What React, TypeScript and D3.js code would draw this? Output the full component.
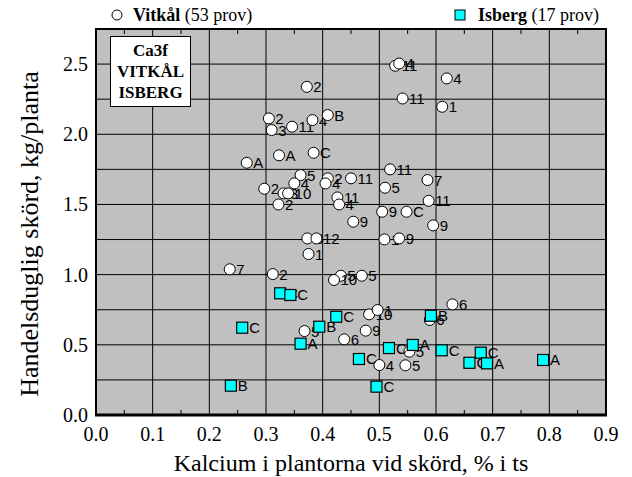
import React from "react";
import * as d3 from "d3";

const vitkalX = [0.236, 0.312, 0.432, 0.42, 0.469, 0.368, 0.438, 0.476, 0.482, 0.497, 0.5, 0.553, 0.546, 0.629, 0.589,
  0.266, 0.323, 0.384, 0.361, 0.35, 0.297, 0.331, 0.339, 0.322, 0.409, 0.405, 0.45, 0.426, 0.429, 0.454, 0.505, 0.509,
  0.373, 0.389, 0.375, 0.519, 0.585, 0.51, 0.587, 0.548, 0.595, 0.535, 0.372, 0.619, 0.611, 0.541, 0.528, 0.535,
  0.305, 0.31, 0.346, 0.382, 0.409];
const vitkalY = [1.038, 1.004, 0.992, 0.962, 0.992, 0.598, 0.539, 0.601, 0.717, 0.748, 0.356, 0.451, 0.354, 0.788, 0.677,
  1.797, 1.85, 1.868, 1.709, 1.65, 1.612, 1.579, 1.579, 1.5, 1.686, 1.65, 1.686, 1.55, 1.5, 1.377, 1.448, 1.251,
  1.258, 1.258, 1.147, 1.75, 1.674, 1.619, 1.526, 1.448, 1.351, 1.258, 2.338, 2.398, 2.196, 2.255, 2.488, 2.504,
  2.113, 2.03, 2.054, 2.101, 2.137];
const vitkalLabel = ["7", "2", "5", "10", "5", "5", "6", "9", "10", "1", "4", "5", "5", "6", "6",
  "A", "A", "C", "5", "4", "2", "3", "10", "2", "2", "4", "11", "11", "4", "9", "9", "1",
  "B", "12", "1", "11", "7", "5", "11", "C", "9", "9", "2", "4", "1", "11", "11", "4",
  "2", "3", "11", "4", "B"];

const isbergX = [0.325, 0.343, 0.258, 0.238, 0.394, 0.361, 0.424, 0.464, 0.495, 0.517, 0.559, 0.591, 0.61, 0.679, 0.659, 0.69, 0.789];
const isbergY = [0.867, 0.855, 0.622, 0.209, 0.629, 0.508, 0.7, 0.399, 0.202, 0.477, 0.499, 0.707, 0.461, 0.444, 0.372, 0.368, 0.392];
const isbergLabel = ["C", "C", "C", "B", "B", "A", "C", "C", "C", "C", "A", "B", "C", "C", "C", "A", "A"];

const xTicks = [0, 0.1, 0.2, 0.3, 0.4, 0.5, 0.6, 0.7, 0.8, 0.9];
const yTicks = [0, 0.5, 1.0, 1.5, 2.0, 2.5];
const yGrid = [0.25, 0.5, 0.75, 1.0, 1.25, 1.5, 1.75, 2.0, 2.25, 2.5];
const xMinor = [0.05, 0.15, 0.25, 0.35, 0.45, 0.55, 0.65, 0.75, 0.85];
const boxLines = ["Ca3f", "VITKÅL", "ISBERG"];

const W = 632, H = 477;
const L = 96, R = 606, T = 29, B = 415;

export default function App() {
  const x = d3.scaleLinear().domain([0, 0.9]).range([L, R]);
  const y = d3.scaleLinear().domain([0, 2.75]).range([B, T]);
  const serif = "'Liberation Serif', 'Times New Roman', serif";
  const sans = "'Liberation Sans', Arial, sans-serif";
  return (
    <svg width={W} height={H} style={{ position: "absolute", left: 0, top: 0, background: "#fff" }}>
      <rect x={L} y={T} width={R - L} height={B - T} fill="#c0c0c0" />
      {xTicks.slice(1, -1).map((t) => (
        <line key={"vx" + t} x1={x(t)} x2={x(t)} y1={T} y2={B} stroke="#000" strokeWidth={1} />
      ))}
      {yGrid.map((t) => (
        <line key={"hy" + t} x1={L} x2={R} y1={y(t)} y2={y(t)} stroke="#000" strokeWidth={1} />
      ))}
      {xMinor.map((t) => (
        <g key={"mx" + t}>
          <line x1={x(t)} x2={x(t)} y1={B} y2={B - 5} stroke="#000" strokeWidth={1} />
          <line x1={x(t)} x2={x(t)} y1={T} y2={T + 5} stroke="#000" strokeWidth={1} />
        </g>
      ))}
      <rect x={L} y={T} width={R - L} height={B - T} fill="none" stroke="#000" strokeWidth={2} />
      <line x1={L - 1} x2={R + 1} y1={B} y2={B} stroke="#000" strokeWidth={3} />

      {/* title box */}
      <rect x={110.5} y={36.5} width={80} height={70} fill="#fff" stroke="#000" strokeWidth={1} />
      {boxLines.map((s, i) => (
        <text key={s} x={150.5} y={56 + i * 21.2} textAnchor="middle" fontFamily={serif} fontWeight="bold" fontSize={17}>{s}</text>
      ))}

      {/* circles */}
      {vitkalX.map((v, i) => (
        <g key={"c" + i}>
          <circle cx={x(v)} cy={y(vitkalY[i])} r={5.5} fill="#fff" stroke="#000" strokeWidth={1} />
          <text x={x(v) + 6.5} y={y(vitkalY[i]) + 5.5} fontFamily={sans} fontSize={15}>{vitkalLabel[i]}</text>
        </g>
      ))}
      {isbergX.map((v, i) => (
        <g key={"s" + i}>
          <rect x={x(v) - 5.5} y={y(isbergY[i]) - 5.5} width={11} height={11} fill="#00ffff" stroke="#000" strokeWidth={1.2} />
          <text x={x(v) + 7} y={y(isbergY[i]) + 5.5} fontFamily={sans} fontSize={15}>{isbergLabel[i]}</text>
        </g>
      ))}

      {/* tick labels */}
      {xTicks.map((t) => (
        <text key={"xl" + t} x={x(t)} y={441} textAnchor="middle" fontFamily={serif} fontSize={20}>{t.toFixed(1)}</text>
      ))}
      {yTicks.map((t) => (
        <text key={"yl" + t} x={88} y={y(t) + 7} textAnchor="end" fontFamily={serif} fontSize={20}>{t.toFixed(1)}</text>
      ))}
      <text x={351} y={471} textAnchor="middle" fontFamily={serif} fontSize={24}>Kalcium i plantorna vid skörd, % i ts</text>
      <text transform={`translate(38, 234) rotate(-90)`} textAnchor="middle" fontFamily={serif} fontSize={26}>Handelsduglig skörd, kg/planta</text>

      {/* legend */}
      <circle cx={117} cy={15} r={5} fill="#fff" stroke="#000" strokeWidth={1} />
      <text x={133} y={21} fontFamily={serif} fontSize={18}>
        <tspan fontWeight="bold">Vitkål</tspan> (53 prov)
      </text>
      <rect x={455} y={10} width={10} height={10} fill="#00ffff" stroke="#000" strokeWidth={1} />
      <text x={478} y={21} fontFamily={serif} fontSize={18}>
        <tspan fontWeight="bold">Isberg</tspan> (17 prov)
      </text>
    </svg>
  );
}
